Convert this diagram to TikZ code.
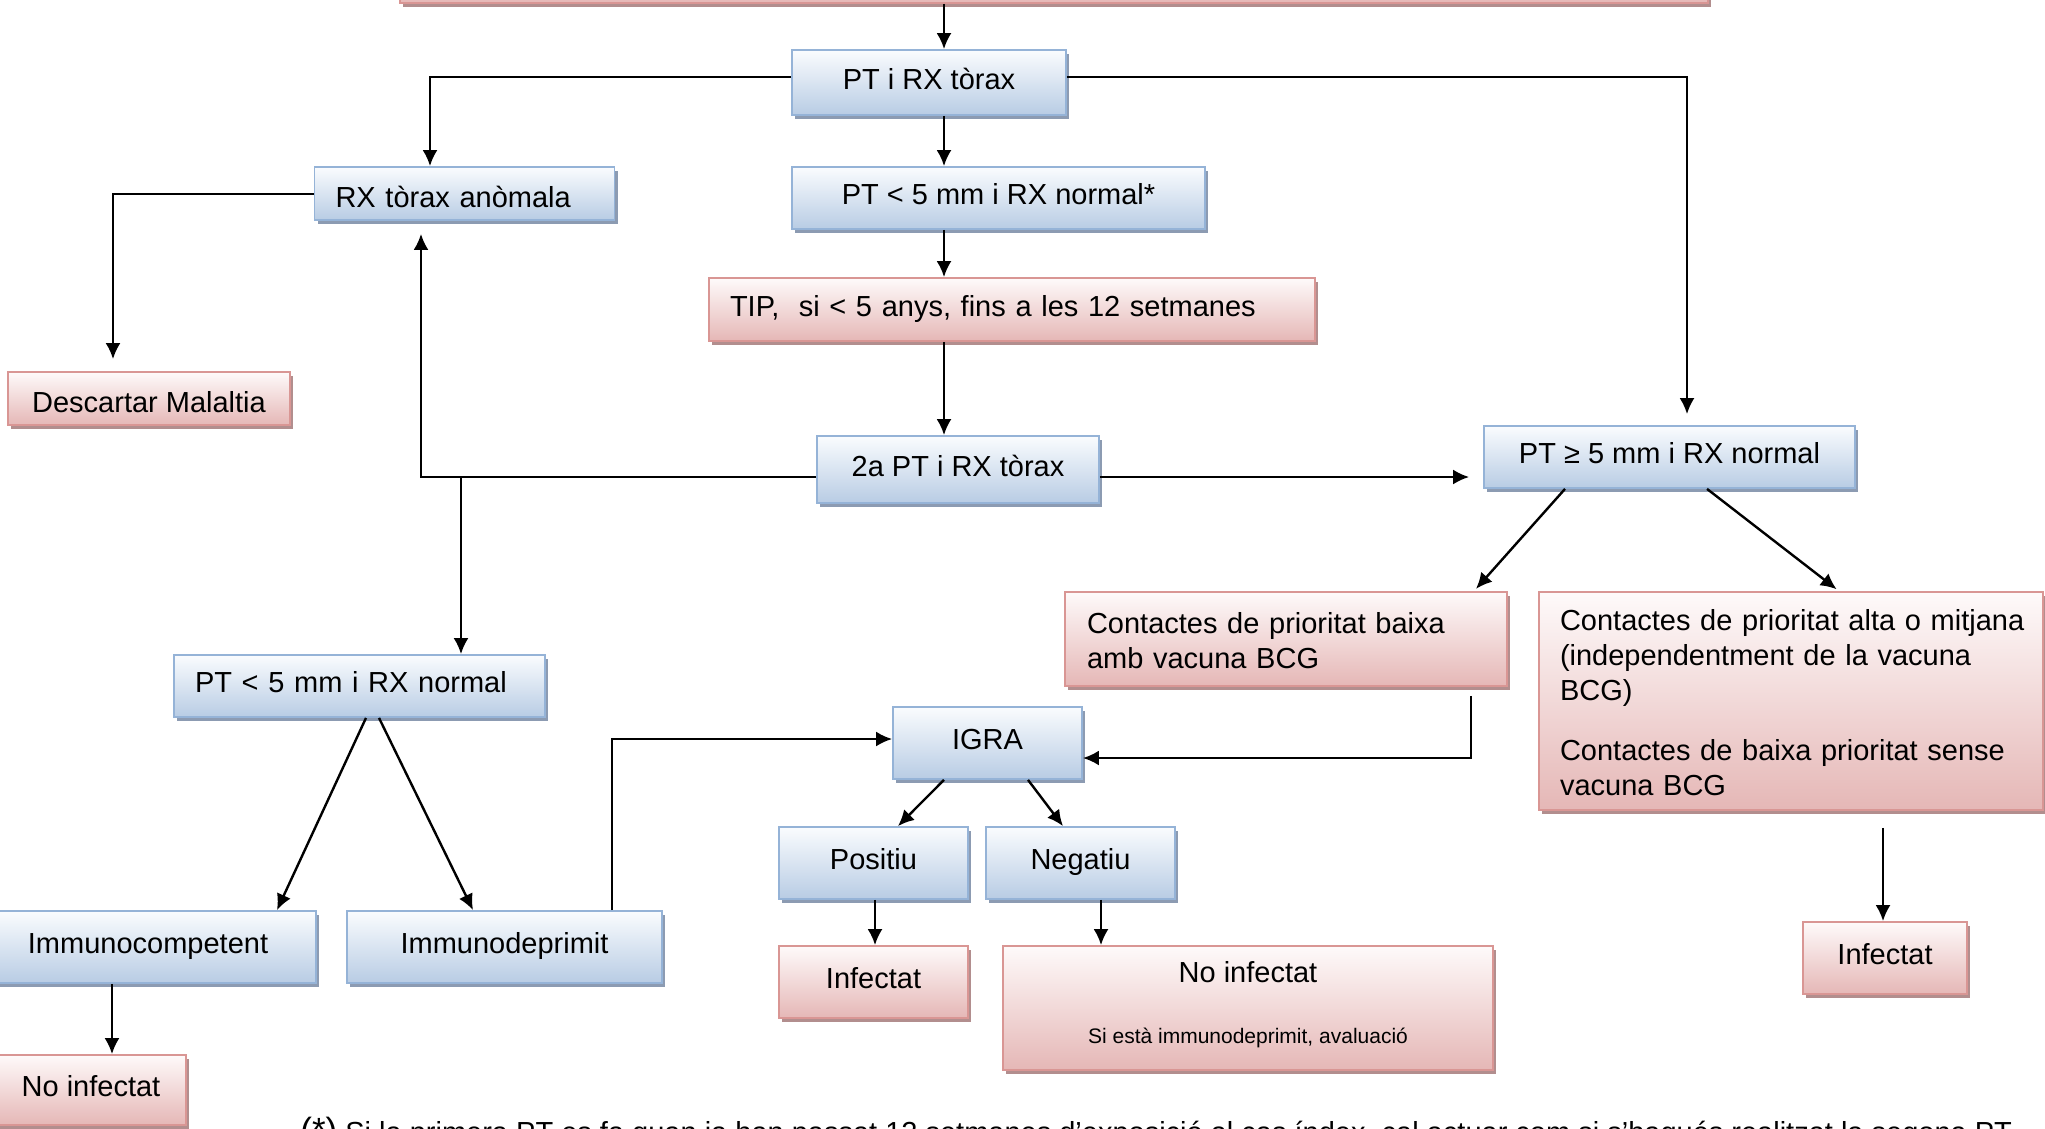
\documentclass[tikz,border=0pt]{standalone}
\usepackage{fontspec}
\setmainfont{Liberation Sans}
\usetikzlibrary{arrows.meta,shadows,calc}
\definecolor{bborder}{RGB}{149,179,215}
\definecolor{btop}{RGB}{250,252,254}
\definecolor{bbot}{RGB}{184,204,228}
\definecolor{bshadow}{RGB}{140,155,178}
\definecolor{pborder}{RGB}{217,150,148}
\definecolor{ptop}{RGB}{254,250,250}
\definecolor{pbot}{RGB}{229,183,182}
\definecolor{pshadow}{RGB}{178,142,142}
\tikzset{
  basebox/.style={inner ysep=0pt, inner xsep=0pt, line width=0.9pt,
    font=\fontsize{14.5}{17.4}\selectfont, align=center, execute at begin node=\strut},
  bluebox/.style={basebox, draw=bborder, top color=btop, bottom color=bbot,
    drop shadow={shadow xshift=1.6pt, shadow yshift=-2pt, fill=bshadow, opacity=1}},
  pinkbox/.style={basebox, draw=pborder, top color=ptop, bottom color=pbot,
    drop shadow={shadow xshift=1.6pt, shadow yshift=-2pt, fill=pshadow, opacity=1}},
  lowtext/.style={text height=13.5pt, text depth=0pt},
  arr/.style={draw, line width=1.2pt, -{Latex[length=8pt,width=7.5pt]}},
  ln/.style={draw, line width=1.2pt}
}
\begin{document}
\begin{tikzpicture}[x=0.5pt,y=-0.5pt]
\useasboundingbox (0,0) rectangle (2045,1129);
% nodes
\node[pinkbox, minimum width=654pt, minimum height=31.5pt] (top) at (1054,-28.5) {};
\node[bluebox, minimum width=137pt, minimum height=32.5pt] (ptrx) at (929,82.5) {PT i RX tòrax};
\node[bluebox, lowtext, minimum height=26.5pt, text width=129pt, inner xsep=10.5pt, align=left] (rxan) at (464.5,193.5) {RX tòrax anòmala};
\node[bluebox, minimum width=206.5pt, minimum height=31pt] (ptn5s) at (998.5,198) {PT < 5 mm i RX normal*};
\node[pinkbox, minimum height=31.5pt, text width=282pt, inner xsep=10.5pt, align=left] (tip) at (1012,309.5) {TIP,\ \ si < 5 anys, fins a les 12 setmanes};
\node[pinkbox, lowtext, minimum width=141pt, minimum height=26.5pt] (desc) at (149,398.5) {Descartar Malaltia};
\node[bluebox, minimum width=141pt, minimum height=33.5pt] (pt2) at (958,469.5) {2a PT i RX tòrax};
\node[bluebox, minimum width=185.5pt, minimum height=31pt] (ptge5) at (1669.5,457) {PT ≥ 5 mm i RX normal};
\node[pinkbox, minimum height=47pt, text width=199pt, inner xsep=11pt, align=left] (cbaixa) at (1286,639) {Contactes de prioritat baixa\\amb vacuna BCG};
\node[pinkbox, minimum height=109pt, text width=231pt, inner xsep=10.5pt, align=left] (calta) at (1791,701) {\mbox{Contactes de prioritat alta o mitjana}\\(independentment de la vacuna\\BCG)\\[13pt]Contactes de baixa prioritat sense\\vacuna BCG};
\node[pinkbox, minimum width=82pt, minimum height=36pt] (infR) at (1885,958) {Infectat};
\node[pinkbox, minimum width=245pt, minimum height=62pt] (noinfM) at (1248,1008) {No infectat\\[13pt]{\fontsize{10.5}{12.6}\selectfont Si està immunodeprimit, avaluació}};
\node[bluebox, minimum width=94.5pt, minimum height=36pt] (igra) at (987.5,743) {IGRA};
\node[bluebox, minimum width=94.5pt, minimum height=36pt] (pos) at (873.5,863) {Positiu};
\node[bluebox, minimum width=94.5pt, minimum height=36pt] (neg) at (1080.5,863) {Negatiu};
\node[pinkbox, minimum width=94.5pt, minimum height=36pt] (infM) at (873.5,982) {Infectat};
\node[bluebox, minimum height=31pt, text width=164.5pt, inner xsep=10.5pt, align=left] (ptn5L) at (359.5,686) {PT < 5 mm i RX normal};
\node[bluebox, minimum width=168pt, minimum height=36pt] (icomp) at (148,947) {Immunocompetent};
\node[bluebox, minimum width=157.5pt, minimum height=36pt] (idep) at (504.5,947) {Immunodeprimit};
\node[pinkbox, minimum width=95pt, minimum height=35pt] (noinfL) at (91,1090) {No infectat};
\node[anchor=base west, inner sep=0pt, font=\fontsize{14.5}{17.4}\selectfont] (fn) at (300,1142) {{\fontsize{17.5}{20}\selectfont(*)} Si la primera PT es fa quan ja han passat 12 setmanes d’exposició al cas índex, cal actuar com si s’hagués realitzat la segona PT};
% helper coordinates
\coordinate (sp) at (944,0);
\coordinate (r1) at (430,77);
\coordinate (r2) at (1687,77);
\coordinate (r3) at (113,194);
\coordinate (r4) at (421,477);
\coordinate (r5) at (461,477);
\coordinate (r6) at (1471,758);
\coordinate (r7) at (1883,0);
\coordinate (r8) at (612,739);
\coordinate (d1) at (1565,0);
\coordinate (d2) at (1474,0);
\coordinate (d3) at (1707,0);
\coordinate (d4) at (1839,0);
\coordinate (e1) at (366,0);
\coordinate (e2) at (277,0);
\coordinate (e3) at (379,0);
\coordinate (e4) at (473,0);
\coordinate (e5) at (112,0);
\coordinate (g1) at (944,0);
\coordinate (g2) at (898,0);
\coordinate (g3) at (1028,0);
\coordinate (g4) at (1063,0);
\coordinate (g5) at (875,0);
\coordinate (g6) at (1101,0);
% connectors
\draw[arr] (top.south -| sp) -- (ptrx.north -| sp);
\draw[arr] (ptrx.south -| sp) -- (ptn5s.north -| sp);
\draw[arr] (ptn5s.south -| sp) -- (tip.north -| sp);
\draw[arr] (tip.south -| sp) -- (pt2.north -| sp);
\draw[arr] (ptrx.west |- r1) -| (rxan.north -| r1);
\draw[arr, shorten >=5.5pt] (ptrx.east |- r2) -| (ptge5.north -| r2);
\draw[arr, shorten >=6pt] (rxan.west |- r3) -| (desc.north -| r3);
\draw[arr, shorten >=6.5pt] (pt2.west |- r4) -| (rxan.south -| r4);
\draw[arr] (r5) -- (ptn5L.north -| r5);
\draw[arr, shorten >=7pt] (pt2.east |- r4) -- (ptge5.west |- r4);
\draw[arr, shorten >=1.5pt] (ptge5.south -| d1) -- (cbaixa.north -| d2);
\draw[arr, shorten >=1.5pt] (ptge5.south -| d3) -- (calta.north -| d4);
\draw[arr, shorten <=4.5pt] (cbaixa.south -| r6) |- (igra.east |- r6);
\draw[arr, shorten <=8.5pt] (calta.south -| r7) -- (infR.north -| r7);
\draw[arr] (ptn5L.south -| e1) -- (icomp.north -| e2);
\draw[arr] (ptn5L.south -| e3) -- (idep.north -| e4);
\draw[arr] (icomp.south -| e5) -- (noinfL.north -| e5);
\draw[arr] (idep.north -| r8) |- (igra.west |- r8);
\draw[arr] (igra.south -| g1) -- (pos.north -| g2);
\draw[arr] (igra.south -| g3) -- (neg.north -| g4);
\draw[arr] (pos.south -| g5) -- (infM.north -| g5);
\draw[arr] (neg.south -| g6) -- (noinfM.north -| g6);
\end{tikzpicture}
\end{document}
